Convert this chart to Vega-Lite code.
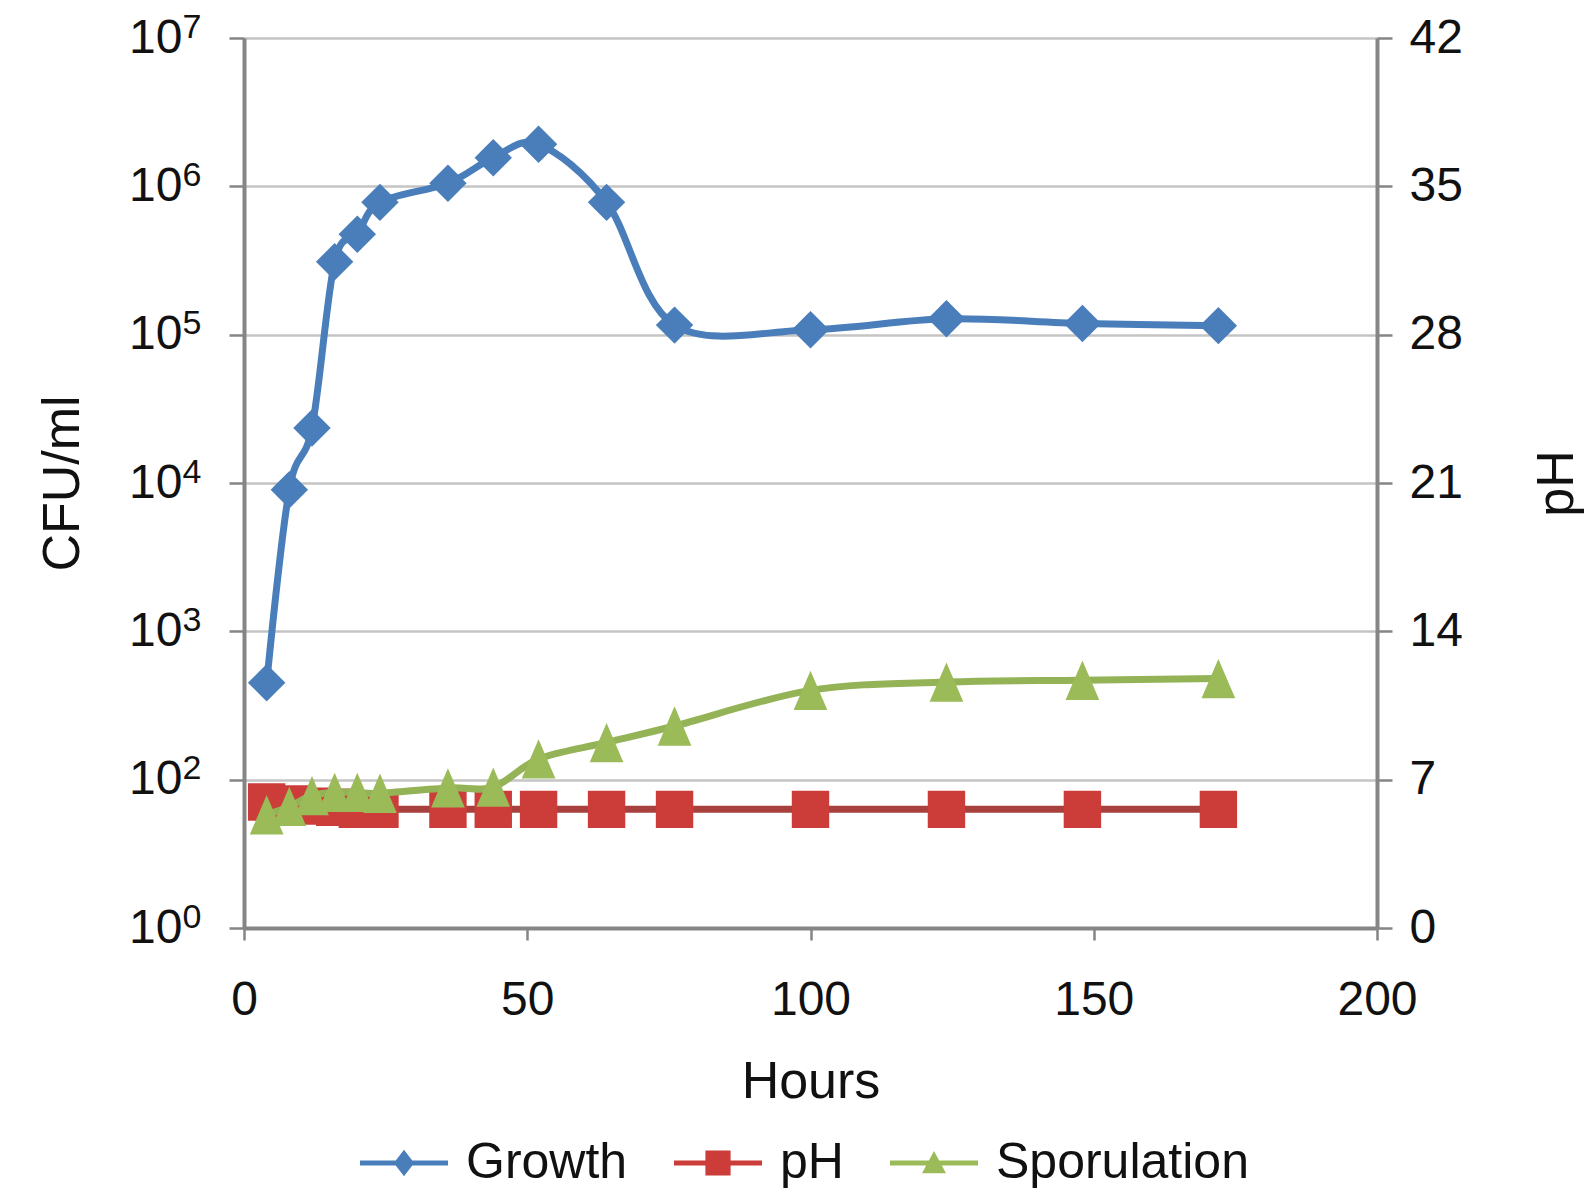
{
  "$schema": "https://vega.github.io/schema/vega-lite/v6.json",
  "width": 1133,
  "height": 890,
  "autosize": {"type": "none"},
  "padding": {"left": 244, "top": 38, "right": 208, "bottom": 261},
  "background": "white",
  "config": {
    "view": {"stroke": null},
    "font": "Liberation Sans",
    "axis": {
      "labelFont": "Liberation Sans",
      "titleFont": "Liberation Sans",
      "labelColor": "#111111",
      "titleColor": "#111111",
      "titleFontWeight": "normal",
      "domainColor": "#858585",
      "tickColor": "#858585",
      "labelFontSize": 48,
      "titleFontSize": 52,
      "labelOverlap": false
    }
  },
  "data": {
    "values": [
      {"hours": 4, "series": "Growth", "value": 450},
      {"hours": 8, "series": "Growth", "value": 9000},
      {"hours": 12, "series": "Growth", "value": 23500},
      {"hours": 16, "series": "Growth", "value": 310000},
      {"hours": 20, "series": "Growth", "value": 475000},
      {"hours": 24, "series": "Growth", "value": 780000},
      {"hours": 36, "series": "Growth", "value": 1050000},
      {"hours": 44, "series": "Growth", "value": 1560000},
      {"hours": 52, "series": "Growth", "value": 1920000},
      {"hours": 64, "series": "Growth", "value": 780000},
      {"hours": 76, "series": "Growth", "value": 116000},
      {"hours": 100, "series": "Growth", "value": 108000},
      {"hours": 124, "series": "Growth", "value": 128000},
      {"hours": 148, "series": "Growth", "value": 119000},
      {"hours": 172, "series": "Growth", "value": 115000},
      {"hours": 4, "series": "pH", "value": 5.95},
      {"hours": 8, "series": "pH", "value": 5.85},
      {"hours": 12, "series": "pH", "value": 5.75},
      {"hours": 16, "series": "pH", "value": 5.7},
      {"hours": 20, "series": "pH", "value": 5.6},
      {"hours": 24, "series": "pH", "value": 5.6},
      {"hours": 36, "series": "pH", "value": 5.6},
      {"hours": 44, "series": "pH", "value": 5.6},
      {"hours": 52, "series": "pH", "value": 5.6},
      {"hours": 64, "series": "pH", "value": 5.6},
      {"hours": 76, "series": "pH", "value": 5.6},
      {"hours": 100, "series": "pH", "value": 5.6},
      {"hours": 124, "series": "pH", "value": 5.6},
      {"hours": 148, "series": "pH", "value": 5.6},
      {"hours": 172, "series": "pH", "value": 5.6},
      {"hours": 4, "series": "Sporulation", "value": 58},
      {"hours": 8, "series": "Sporulation", "value": 66},
      {"hours": 12, "series": "Sporulation", "value": 78},
      {"hours": 16, "series": "Sporulation", "value": 82},
      {"hours": 20, "series": "Sporulation", "value": 82},
      {"hours": 24, "series": "Sporulation", "value": 81},
      {"hours": 36, "series": "Sporulation", "value": 88},
      {"hours": 44, "series": "Sporulation", "value": 89},
      {"hours": 52, "series": "Sporulation", "value": 138},
      {"hours": 64, "series": "Sporulation", "value": 178},
      {"hours": 76, "series": "Sporulation", "value": 230},
      {"hours": 100, "series": "Sporulation", "value": 400},
      {"hours": 124, "series": "Sporulation", "value": 455},
      {"hours": 148, "series": "Sporulation", "value": 468},
      {"hours": 172, "series": "Sporulation", "value": 480}
    ]
  },
  "encoding": {
    "x": {
      "field": "hours",
      "type": "quantitative",
      "scale": {"domain": [0, 200], "nice": false},
      "axis": {
        "title": "Hours",
        "values": [0, 50, 100, 150, 200],
        "grid": false,
        "domainWidth": 4,
        "tickWidth": 2.5,
        "tickSize": 12,
        "labelPadding": 36,
        "labelFlush": false,
        "titleY": 169,
        "titleBaseline": "alphabetic"
      }
    }
  },
  "layer": [
    {
      "transform": [{"filter": "datum.series === 'Growth'"}],
      "encoding": {
        "y": {
          "field": "value",
          "type": "quantitative",
          "scale": {"type": "log", "domain": [10, 10000000], "nice": false},
          "axis": {
            "title": "CFU/ml",
            "values": [10, 100, 1000, 10000, 100000, 1000000, 10000000],
            "labelExpr": "'10'",
            "grid": true,
            "gridColor": "#c4c4c4",
            "gridWidth": 2.5,
            "domainWidth": 4,
            "tickSize": 15,
            "tickWidth": 2.5,
            "labelPadding": 47,
            "titleAngle": -90,
            "titleX": -166,
            "titleY": 445,
            "titleAlign": "center",
            "titleBaseline": "alphabetic"
          }
        }
      },
      "layer": [
        {
          "mark": {"type": "line", "interpolate": "cardinal", "strokeWidth": 7, "strokeJoin": "round", "color": "#4a7ebb"},
          "encoding": {}
        },
        {
          "mark": {"type": "point", "filled": true, "opacity": 1, "size": 1400, "strokeWidth": 0, "shape": "diamond", "color": "#4a7ebb"},
          "encoding": {}
        },
        {
          "mark": {"type": "point", "filled": true, "opacity": 0, "size": 100, "strokeWidth": 0},
          "encoding": {
            "fill": {"field": "series", "type": "nominal",
              "scale": {"domain": ["Growth", "pH", "Sporulation"], "range": ["#4a7ebb", "#cc3d3a", "#9bbb59"]},
              "legend": {"title": null, "orient": "none", "direction": "horizontal", "legendX": 103, "legendY": 1100, "symbolSize": 576, "symbolOffset": 32, "labelOffset": 37, "columnPadding": 33, "labelFontSize": 50, "labelFont": "Liberation Sans", "labelColor": "#111111", "symbolStrokeWidth": 0, "symbolOpacity": 1, "labelLimit": 400, "padding": 0}},
            "shape": {"field": "series", "type": "nominal",
              "scale": {"domain": ["Growth", "pH", "Sporulation"], "range": ["M-3.67,-0.21L3.67,-0.21L3.67,0.21L-3.67,0.21Z M0,-1.1L0.85,0L0,1.1L-0.85,0Z", "M-3.67,-0.21L3.67,-0.21L3.67,0.21L-3.67,0.21Z M-1.05,-1.05L1.05,-1.05L1.05,1.05L-1.05,1.05Z", "M-3.67,-0.21L3.67,-0.21L3.67,0.21L-3.67,0.21Z M0,-1L1,0.85L-1,0.85Z"]},
              "legend": {"title": null, "orient": "none", "direction": "horizontal", "legendX": 103, "legendY": 1100, "symbolSize": 576, "symbolOffset": 32, "labelOffset": 37, "columnPadding": 33, "labelFontSize": 50, "labelFont": "Liberation Sans", "labelColor": "#111111", "symbolStrokeWidth": 0, "symbolOpacity": 1, "labelLimit": 400, "padding": 0}}
          }
        }
      ]
    },
    {
      "transform": [{"filter": "datum.series === 'pH'"}],
      "encoding": {
        "y": {
          "field": "value",
          "type": "quantitative",
          "scale": {"domain": [0, 42], "nice": false},
          "axis": {
            "orient": "right",
            "title": "pH",
            "values": [0, 7, 14, 21, 28, 35, 42],
            "grid": false,
            "domainWidth": 4,
            "tickSize": 15,
            "tickWidth": 2.5,
            "labelPadding": 17,
            "titleAngle": -90,
            "titleX": 195,
            "titleY": 445,
            "titleAlign": "center",
            "titleBaseline": "alphabetic"
          }
        }
      },
      "layer": [
        {
          "mark": {"type": "line", "interpolate": "cardinal", "strokeWidth": 7, "strokeJoin": "round", "color": "#a8403d"},
          "encoding": {}
        },
        {
          "mark": {"type": "point", "filled": true, "opacity": 1, "size": 1400, "strokeWidth": 0, "shape": "square", "color": "#cc3d3a"},
          "encoding": {}
        }
      ]
    },
    {
      "transform": [{"filter": "datum.series === 'Sporulation'"}],
      "encoding": {
        "y": {
          "field": "value",
          "type": "quantitative",
          "scale": {"type": "log", "domain": [10, 10000000], "nice": false},
          "axis": {
            "orient": "left",
            "title": null,
            "values": [10, 100, 1000, 10000, 100000, 1000000, 10000000],
            "labelExpr": "datum.value < 50 ? '0' : datum.value < 500 ? '2' : datum.value < 5000 ? '3' : datum.value < 50000 ? '4' : datum.value < 500000 ? '5' : datum.value < 5000000 ? '6' : '7'",
            "labelAlign": "left",
            "labelFontSize": 34,
            "labelOffset": -11,
            "labelPadding": 47,
            "tickSize": 15,
            "tickOpacity": 0,
            "domain": false,
            "grid": false
          }
        }
      },
      "layer": [
        {
          "mark": {"type": "line", "interpolate": "cardinal", "strokeWidth": 7, "strokeJoin": "round", "color": "#94b356"},
          "encoding": {}
        },
        {
          "mark": {"type": "point", "filled": true, "opacity": 1, "size": 1400, "strokeWidth": 0, "shape": "M0,-1.05L0.9,1.05L-0.9,1.05Z", "color": "#9bbb59"},
          "encoding": {}
        }
      ]
    }
  ],
  "resolve": {"scale": {"y": "independent"}, "axis": {"y": "independent"}}
}
